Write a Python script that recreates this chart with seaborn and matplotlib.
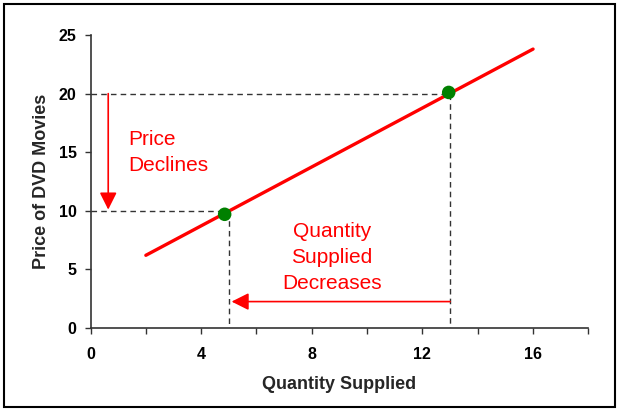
import matplotlib
matplotlib.use("Agg")
import matplotlib.pyplot as plt
from matplotlib.patches import Rectangle
from matplotlib.ticker import MultipleLocator
import seaborn as sns
import pandas as pd

# --- data ---
supply_q = [2, 16]
supply_p = [6.2, 23.8]
point_q = [4.85, 12.95]
point_p = [9.7, 20.1]
old_q, old_p = 13, 20
new_q, new_p = 5, 10
x_ticks = [0, 4, 8, 12, 16]
y_ticks = [0, 5, 10, 15, 20, 25]

sns.set_style("ticks")
plt.rcParams['font.family'] = ['Liberation Sans', 'DejaVu Sans']

fig = plt.figure(figsize=(6.2, 4.12), dpi=100)
ax = fig.add_axes([0.146, 0.204, 0.803, 0.711])

# guide dashed lines
dash = dict(color='#333333', lw=1.0, ls=(0, (4, 3)), zorder=1)
ax.plot([0, old_q], [old_p, old_p], **dash)
ax.plot([old_q, old_q], [old_p, 0], **dash)
ax.plot([0, new_q], [new_p, new_p], **dash)
ax.plot([new_q, new_q], [new_p, 0], **dash)

supply = pd.DataFrame({'q': supply_q, 'p': supply_p})
sns.lineplot(data=supply, x='q', y='p', color='#ff0000', lw=2.4, ax=ax, zorder=2)
pts = pd.DataFrame({'q': point_q, 'p': point_p})
sns.scatterplot(data=pts, x='q', y='p', color='#008000', s=95, edgecolor='none', ax=ax, zorder=3)

# arrows
ax.annotate('', xy=(0.64, new_p + 0.1), xytext=(0.64, old_p),
            arrowprops=dict(arrowstyle='-|>', color='#ff0000', lw=1.2, mutation_scale=26,
                            shrinkA=0, shrinkB=0))
ax.annotate('', xy=(5.1, 2.25), xytext=(old_q, 2.25),
            arrowprops=dict(arrowstyle='-|>', color='#ff0000', lw=1.2, mutation_scale=26,
                            shrinkA=0, shrinkB=0))

ax.text(1.38, 15.0, 'Price\nDeclines', color='#ff0000', fontsize=15,
        ha='left', va='center', linespacing=1.45)
ax.text(8.72, 6.0, 'Quantity\nSupplied\nDecreases', color='#ff0000', fontsize=15,
        ha='center', va='center', linespacing=1.45)

ax.set_xlim(0, 18)
ax.set_ylim(0, 25)
ax.set_xticks(x_ticks)
ax.xaxis.set_minor_locator(MultipleLocator(2))
ax.set_yticks(y_ticks)
ax.tick_params(axis='both', which='both', length=4, width=1, color='#333333', direction='out')
ax.tick_params(axis='x', pad=10)
ax.tick_params(axis='y', pad=6)
for lab in ax.get_xticklabels() + ax.get_yticklabels():
    lab.set_fontweight('bold')
    lab.set_fontsize(11.5)
    lab.set_color('black')

ax.set_xlabel('Quantity Supplied', fontsize=13, fontweight='bold', labelpad=10)
ax.set_ylabel('Price of DVD Movies', fontsize=13, fontweight='bold', labelpad=6)

for s in ['top', 'right']:
    ax.spines[s].set_visible(False)
for s in ['left', 'bottom']:
    ax.spines[s].set_color('#333333')
    ax.spines[s].set_linewidth(1.2)

fig.patches.append(Rectangle((4 / 620, 5 / 412), 611 / 620, 403 / 412,
                             transform=fig.transFigure, fill=False,
                             edgecolor='black', lw=1.5))

fig.savefig('out.png', dpi=100)
